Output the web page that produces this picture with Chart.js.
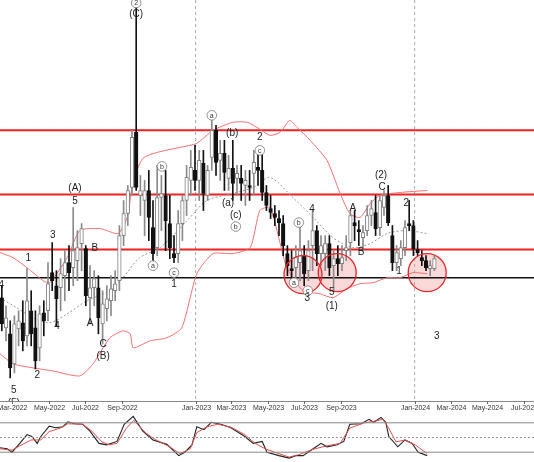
<!DOCTYPE html>
<html><head><meta charset="utf-8">
<script src="https://cdn.jsdelivr.net/npm/chart.js@4/dist/chart.umd.min.js"></script>
<style>
html,body{margin:0;padding:0;background:#fff;width:534px;height:462px;overflow:hidden}
#w1{position:absolute;left:0;top:0;width:534px;height:414px}
#w2{position:absolute;left:0;top:413px;width:534px;height:49px}
</style></head><body>
<div id="w1"><canvas id="c1"></canvas></div>
<div id="w2"><canvas id="c2"></canvas></div>
<script>
// weekly candles: day offset (days since 1 Mar 2022) of the first candle, then OHLC
const firstDay = -17;
const opens  = [103,73,67,37,72,78,65,90,73,53,88,90,128,115,113,125,138,133,140,157,152,103,113,113,77,92,100,110,120,165,187,213,268,205,200,210,173,153,203,205,177,147,147,177,200,220,230,220,237,205,243,270,240,247,222,232,222,222,215,215,227,233,230,208,192,187,182,177,147,132,133,138,145,130,155,170,147,147,157,135,142,137,150,158,178,171,163,170,185,188,173,193,205,165,138,142,153,177,175,151,143,140,132,132];
const highs  = [115,95,80,85,90,100,132,110,90,95,100,138,158,130,142,150,155,193,170,177,155,135,130,125,110,115,125,130,175,200,215,270,410,225,220,230,200,235,225,230,205,165,190,205,235,250,255,250,250,235,280,275,260,260,245,260,235,235,230,230,250,250,250,215,205,195,190,185,155,150,155,175,155,160,190,175,165,165,165,150,155,155,165,190,190,180,175,195,200,205,205,210,215,175,155,160,180,200,180,160,150,145,140,145];
const lows   = [70,60,23,28,55,50,55,55,32,40,65,80,110,75,90,100,110,115,120,130,95,77,95,67,57,80,85,100,110,155,175,205,210,185,165,160,140,145,170,150,142,138,138,160,185,205,210,200,190,200,230,225,220,210,210,200,205,200,195,200,205,215,200,190,182,175,165,145,125,115,120,120,115,120,130,135,135,130,125,110,125,130,140,145,160,155,150,165,175,165,165,185,175,130,130,135,145,170,145,145,135,130,125,130];
const closes = [77,83,33,77,80,60,100,67,40,87,80,117,120,102,127,138,128,150,153,172,105,113,122,83,97,102,112,117,165,187,210,263,213,210,210,183,147,203,207,180,153,143,177,200,223,233,220,240,207,230,270,238,247,228,232,217,227,217,220,213,238,230,208,195,188,183,178,155,135,130,143,150,127,150,170,147,155,157,133,142,137,143,153,185,175,169,168,185,192,172,200,205,178,138,148,153,173,175,152,148,140,133,135,142];

// Bollinger bands (days, price)
const upperDays = [-20,2,25,52,63,92,113,147,177,192,202,218,242,280,308,335,368,392,408,430,447,463,475,497,525,547,563,580,597,613,647,692];
const upperVals = [148,143,133,120,118,143,170,172,167,183,220,242,248,253,257,270,278,278,273,265,268,280,273,260,240,207,187,183,197,205,208,210];
const lowerDays = [-20,2,35,68,113,135,163,185,197,202,230,258,283,308,335,368,397,413,430,447,458,485,513,535,558,580,602,625,647,668,692];
const lowerVals = [47,37,33,30,25,37,63,70,67,53,60,63,73,127,147,147,153,190,193,157,133,110,107,103,112,117,118,123,123,128,127];
const midDays = [-20,8,35,63,92,125,163,185,213,247,292,325,368,402,430,468,502,535,568,597,625,658,692];
const midVals = [103,93,83,78,87,100,110,123,143,153,180,200,207,213,223,203,183,163,153,157,167,170,167];

// horizontal levels
const redLevels = [270,206,151];
const blackLevel = 123;
const yearLines = [306,671];

// axis ticks
const tickDays = [0,61,122,184,306,365,426,487,549,671,731,792,853];
const tickLabels = ['Mar-2022','May-2022','Jul-2022','Sep-2022','Jan-2023','Mar-2023','May-2023','Jul-2023','Sep-2023','Jan-2024','Mar-2024','May-2024','Jul-2024'];

// highlighted zones (circles)
const zoneDays = [485,542,692];
const zoneVals = [126,128,128];

// wave labels: day, price, text, circled
const waveDays  = [207,207,105,105,68,27,138,-18,75,130,152,152,42,3,3,235,250,270,270,333,367,413,413,360,373,373,500,478,470,493,492,533,533,568,582,615,617,657,645,708];
const waveVals  = [397,386,212,199,165,142,152,115,75,78,57,45,26,11,-2,135,234,128,116,285,267,263,250,197,185,174,191,178,118,110,102,108,95,192,148,225,213,197,129,65];
const waveTexts = ['2','(C)','(A)','5','3','1','B','4','4','A','C','(B)','2','5','(5)','a','b','c','1','a','(b)','2','c','(a)','(c)','b','4','b','a','c','3','5','(1)','A','B','(2)','C','2','1','3'];
const waveCircled=[1,0,0,0,0,0,0,0,0,0,0,0,0,0,0,1,1,1,0,1,0,0,1,0,0,1,0,1,1,1,0,0,0,0,0,0,0,0,0,0];

// stochastic
const kDays = [-20,-8,0,13,25,33,42,48,62,73,85,93,105,118,130,145,158,175,187,202,218,235,258,278,288,300,308,320,332,348,365,388,402,417,425,445,462,473,485,502,515,525,542,553,563,582,595,603,615,623,628,643,655,667,677,692];
const kVals = [29,27,20,38,56,52,38,52,73,70,72,82,78,77,63,38,35,42,77,93,63,45,36,13,20,35,72,66,81,77,70,52,38,42,20,13,8,13,13,27,38,31,35,42,77,78,87,81,91,81,52,31,45,38,20,13];
const dDays = [-20,0,13,32,48,62,82,93,118,133,150,162,175,190,203,223,240,263,280,297,308,325,343,365,388,405,422,445,462,478,502,525,547,563,587,603,618,628,640,655,672,692];
const dVals = [27,24,33,45,45,62,70,78,77,63,41,35,38,68,85,59,45,31,17,27,60,72,77,71,56,38,27,17,10,15,26,33,38,69,80,83,87,69,41,45,35,17];

const wicks=[], bodies=[], wickCol=[], bodyCol=[], bodyBorder=[];
for(let i=0;i<opens.length;i++){
  const d=firstDay+7*i, up=closes[i]>=opens[i];
  wicks.push({x:d,y:[lows[i],highs[i]]});
  bodies.push({x:d,y:[Math.min(opens[i],closes[i]),Math.max(opens[i],closes[i])+(opens[i]===closes[i]?1:0)]});
  wickCol.push(up?'#8a8a8a':'#111');
  bodyCol.push(up?'#ffffff':'#111');
  bodyBorder.push(up?'#808080':'#111');
}
const pts=(xs,ys)=>xs.map((x,i)=>({x,y:ys[i]}));
const ds=[];
redLevels.forEach(v=>ds.push({type:'line',data:[{x:-20,y:v},{x:870,y:v}],borderColor:'#ee2222',borderWidth:2,pointRadius:0,order:5}));
ds.push({type:'line',data:[{x:-20,y:blackLevel},{x:870,y:blackLevel}],borderColor:'#111',borderWidth:1.6,pointRadius:0,order:5});
yearLines.forEach(v=>ds.push({type:'line',data:[{x:v,y:-10},{x:v,y:420}],borderColor:'#aaa',borderWidth:1,borderDash:[3,3],pointRadius:0,order:6}));
ds.push({type:'line',data:pts(upperDays,upperVals),borderColor:'#f07070',borderWidth:1,pointRadius:0,tension:0.2,order:4});
ds.push({type:'line',data:pts(lowerDays,lowerVals),borderColor:'#f07070',borderWidth:1,pointRadius:0,tension:0.2,order:4});
ds.push({type:'line',data:pts(midDays,midVals),borderColor:'#999',borderWidth:1,borderDash:[2,2],pointRadius:0,tension:0.3,order:4});
ds.push({type:'bar',data:wicks,backgroundColor:wickCol,barThickness:1,grouped:false,order:3});
ds.push({type:'bar',data:bodies,backgroundColor:bodyCol,borderColor:bodyBorder,borderWidth:1,borderSkipped:false,barThickness:3.6,grouped:false,order:2});

const labelPlugin={id:'waves',
beforeDatasetsDraw(ch){
  const c=ch.ctx,xs=ch.scales.x,ys=ch.scales.y;
  c.save();
  zoneDays.forEach((d,i)=>{
    c.beginPath();c.arc(xs.getPixelForValue(d),ys.getPixelForValue(zoneVals[i]),19,0,Math.PI*2);
    c.fillStyle='rgba(240,120,120,0.28)';c.fill();
  });
  c.restore();
},
afterDatasetsDraw(ch){
  const c=ch.ctx,xs=ch.scales.x,ys=ch.scales.y,a=ch.chartArea;
  c.save();
  zoneDays.forEach((d,i)=>{
    c.beginPath();c.arc(xs.getPixelForValue(d),ys.getPixelForValue(zoneVals[i]),19,0,Math.PI*2);
    c.strokeStyle='#e8262a';c.lineWidth=1.3;c.stroke();
  });
  c.textAlign='center';c.textBaseline='middle';
  waveTexts.forEach((t,i)=>{
    const px=xs.getPixelForValue(waveDays[i]),py=ys.getPixelForValue(waveVals[i]);
    if(waveCircled[i]){
      c.fillStyle='#fff';c.strokeStyle='#777';c.lineWidth=0.8;
      c.beginPath();c.arc(px,py,4.8,0,Math.PI*2);c.fill();c.stroke();
      c.fillStyle='#333';c.font='7px "Liberation Sans"';c.fillText(t,px,py+0.5);
    } else {
      c.fillStyle='#222';c.font='10px "Liberation Sans"';c.fillText(t,px,py);
    }
  });
  c.fillStyle='#fff';c.fillRect(0,a.bottom,ch.width,ch.height-a.bottom);
  c.strokeStyle='#888';c.lineWidth=1;
  c.beginPath();c.moveTo(0,a.bottom+0.5);c.lineTo(ch.width,a.bottom+0.5);c.stroke();
  c.font='7px "Liberation Sans"';c.fillStyle='#333';c.textBaseline='top';
  tickDays.forEach((d,i)=>{
    const px=Math.round(xs.getPixelForValue(d))+0.5;
    c.strokeStyle='#666';c.beginPath();c.moveTo(px,a.bottom);c.lineTo(px,a.bottom+3);c.stroke();
    c.fillText(tickLabels[i],px,a.bottom+4);
  });
  c.restore();
}};

new Chart(document.getElementById('c1'),{
  data:{datasets:ds},
  plugins:[labelPlugin],
  options:{responsive:true,maintainAspectRatio:false,animation:false,
    layout:{padding:{left:0,right:0,top:0,bottom:13}},
    plugins:{legend:{display:false},tooltip:{enabled:false}},
    scales:{
      x:{type:'linear',min:-20,max:870,display:false,offset:false},
      y:{display:false,min:0,max:400}
    }}
});

new Chart(document.getElementById('c2'),{
  type:'line',
  data:{datasets:[
    {data:[{x:-20,y:80},{x:870,y:80}],borderColor:'#888',borderWidth:1,pointRadius:0},
    {data:[{x:-20,y:50},{x:870,y:50}],borderColor:'#999',borderWidth:1,borderDash:[2,2],pointRadius:0},
    {data:[{x:-20,y:20},{x:870,y:20}],borderColor:'#888',borderWidth:1,pointRadius:0},
    {data:pts(dDays,dVals),borderColor:'#e05050',borderWidth:1,pointRadius:0},
    {data:pts(kDays,kVals),borderColor:'#222',borderWidth:1.1,pointRadius:0}
  ]},
  options:{responsive:true,maintainAspectRatio:false,animation:false,layout:{padding:0},
    plugins:{legend:{display:false},tooltip:{enabled:false}},
    scales:{x:{type:'linear',min:-20,max:870,display:false},y:{display:false,min:0,max:100}}}
});
</script></body></html>
